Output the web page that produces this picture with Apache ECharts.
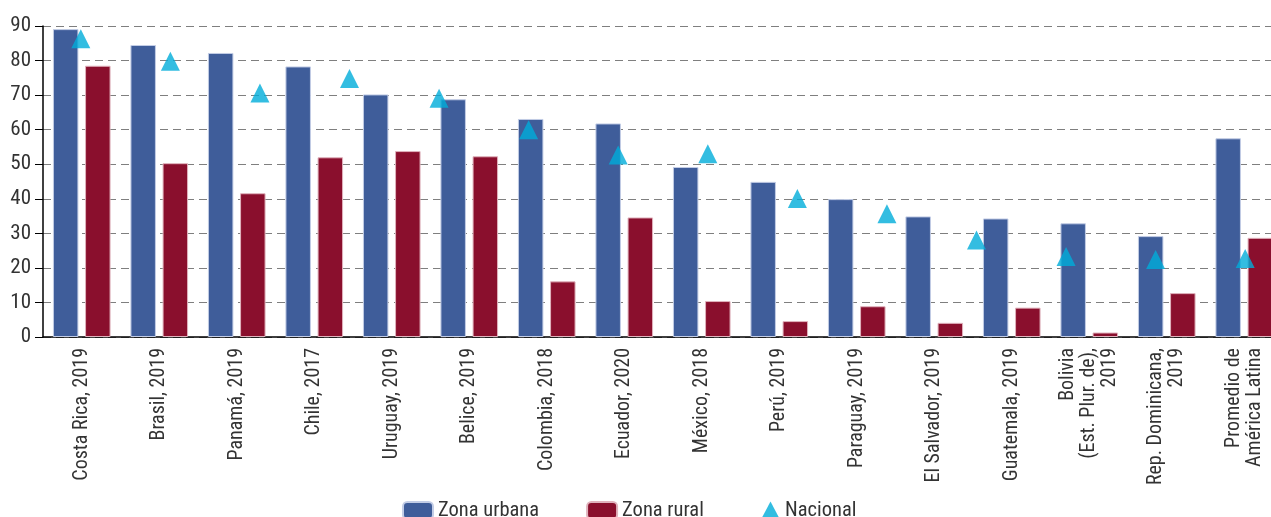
<!DOCTYPE html>
<html lang="es">
<head>
<meta charset="utf-8">
<script src="https://cdn.jsdelivr.net/npm/echarts@6/dist/echarts.min.js"></script>
<style>
  html, body { margin: 0; padding: 0; background: #fff; }
  #chart { width: 1271px; height: 517px; }
</style>
</head>
<body>
<div id="chart"></div>
<script>
const CATEGORIES = [
  "Costa Rica, 2019", "Brasil, 2019", "Panamá, 2019", "Chile, 2017", "Uruguay, 2019",
  "Belice, 2019", "Colombia, 2018", "Ecuador, 2020", "México, 2018", "Perú, 2019",
  "Paraguay, 2019", "El Salvador, 2019", "Guatemala, 2019",
  "Bolivia\n(Est. Plur. de),\n2019", "Rep. Dominicana,\n2019", "Promedio de\nAmérica Latina",
];
const URBAN = [89.1, 84.5, 82.2, 78.3, 70.2, 68.8, 63.1, 61.8, 49.2, 44.9, 39.9, 34.9, 34.3, 32.9, 29.2, 57.5];
const RURAL = [78.5, 50.3, 41.6, 52.0, 53.8, 52.3, 16.1, 34.6, 10.4, 4.6, 8.9, 4.1, 8.5, 1.3, 12.7, 28.7];
// the national markers sit on their own 14-step axis in the source figure
const NATIONAL_STEPS = ["1", "2", "3", "4", "5", "6", "7", "8", "9", "10", "11", "12", "13", "14"];
const NATIONAL = [86.3, 79.8, 70.6, 74.8, 69.1, 60.0, 52.7, 53.0, 40.1, 35.7, 28.1, 23.3, 22.4, 22.7];

const FONT = "'Liberation Sans Narrow', 'Roboto Condensed', 'Roboto', sans-serif";
const TEXT_COLOR = "#333";

const chart = echarts.init(document.getElementById("chart"));

chart.setOption({
  animation: false,
  textStyle: { fontFamily: FONT },
  legend: [
    {
      left: 402,
      top: 500,
      padding: 0,
      itemWidth: 30,
      itemHeight: 17,
      itemGap: 47,
      data: ["Zona urbana", "Zona rural"],
      textStyle: { fontFamily: FONT, fontSize: 20.5, color: TEXT_COLOR },
    },
    {
      left: 761,
      top: 500,
      padding: 0,
      itemWidth: 19,
      itemHeight: 18,
      data: ["Nacional"],
      textStyle: { fontFamily: FONT, fontSize: 20.5, color: TEXT_COLOR },
    },
  ],
  grid: [
    { left: 43, width: 1240, top: 26, bottom: 180, outerBoundsMode: "none" },
    { left: 36, width: 1254, top: 26, bottom: 180, outerBoundsMode: "none" },
  ],
  xAxis: [
    {
      type: "category",
      gridIndex: 0,
      data: CATEGORIES,
      axisLine: { lineStyle: { color: "#000", width: 1.5 } },
      axisTick: { length: 8, lineStyle: { color: "#000" } },
      axisLabel: {
        interval: 0,
        rotate: 90,
        margin: 11,
        fontSize: 20,
        lineHeight: 21,
        color: TEXT_COLOR,
      },
    },
    {
      type: "category",
      gridIndex: 1,
      data: NATIONAL_STEPS,
      show: false,
    },
  ],
  yAxis: [
    {
      type: "value",
      gridIndex: 0,
      min: 0,
      max: 90,
      interval: 10,
      axisLine: { show: true, lineStyle: { color: "#000", width: 1.5 } },
      axisTick: { show: true, length: 8, lineStyle: { color: "#000" } },
      axisLabel: { margin: 12, fontSize: 21, color: TEXT_COLOR },
      splitLine: { lineStyle: { color: "#7f7f7f", type: [8, 5], width: 1.2 } },
    },
    {
      type: "value",
      gridIndex: 1,
      min: 0,
      max: 90,
      show: false,
      splitLine: { show: false },
    },
  ],
  series: [
    {
      name: "Zona urbana",
      type: "bar",
      xAxisIndex: 0,
      yAxisIndex: 0,
      data: URBAN,
      barWidth: 25.5,
      barGap: "26%",
      itemStyle: { color: "#3f5d9a", borderColor: "#c3cde6", borderWidth: 1 },
    },
    {
      name: "Zona rural",
      type: "bar",
      xAxisIndex: 0,
      yAxisIndex: 0,
      data: RURAL,
      barWidth: 25.5,
      barGap: "26%",
      itemStyle: { color: "#8a0f2d", borderColor: "#e0b3bd", borderWidth: 1 },
    },
    {
      name: "Nacional",
      type: "scatter",
      xAxisIndex: 1,
      yAxisIndex: 1,
      data: NATIONAL,
      symbol: "triangle",
      symbolSize: 19,
      itemStyle: { color: "#00acd9" },
      z: 5,
    },
  ],
});
</script>
</body>
</html>
